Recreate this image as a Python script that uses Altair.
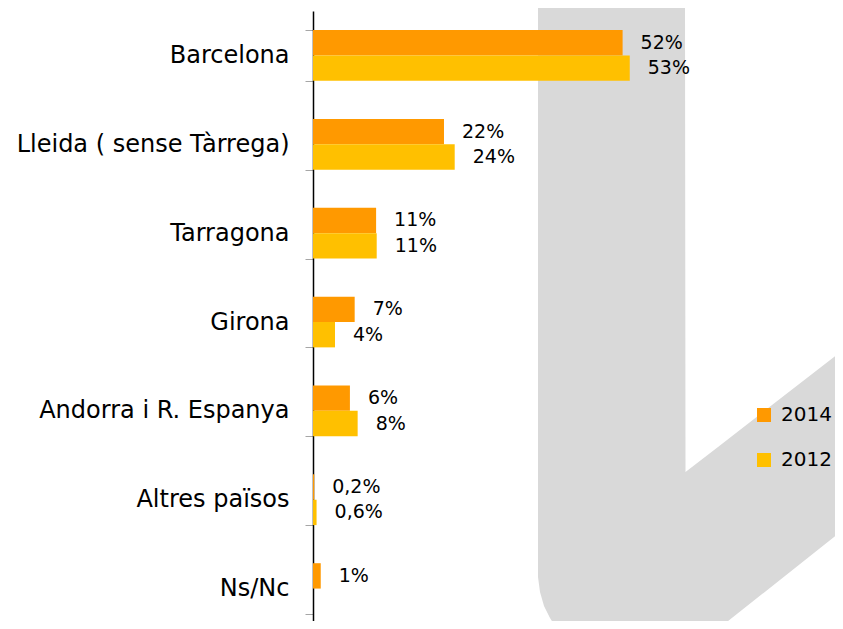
import altair as alt
import pandas as pd

# ---- chart data ----
categories = ["Barcelona", "Lleida ( sense Tàrrega)", "Tarragona", "Girona",
              "Andorra i R. Espanya", "Altres països", "Ns/Nc"]
years = ["2014", "2012"]
values_2014 = [52.0, 22.0, 10.6, 7.0, 6.2, 0.2, 1.3]
values_2012 = [53.2, 23.8, 10.7, 3.7, 7.5, 0.6, None]
labels_2014 = ["52%", "22%", "11%", "7%", "6%", "0,2%", "1%"]
labels_2012 = ["53%", "24%", "11%", "4%", "8%", "0,6%", None]
colors = ["#FF9900", "#FFC000"]

# ---- decorative background watermark (grey "L" shape), pixel outline ----
wm_x = [225, 227, 231, 237, 244, 249, 372, 372.5, 405, 530]
wm_top = [-11, -11, -11, -11, -11, -11, -11, 461, 436, 339]
wm_bot = [566, 581, 595, 607, 618, 629, 629, 629, 618, 519]

rows = []
for c, v, l in zip(categories, values_2014, labels_2014):
    if v is not None:
        rows.append({"cat": c, "year": "2014", "val": v, "lab": l})
for c, v, l in zip(categories, values_2012, labels_2012):
    if v is not None:
        rows.append({"cat": c, "year": "2012", "val": v, "lab": l})
df = pd.DataFrame(rows)
wm = pd.DataFrame({"wx": wm_x, "wy": wm_top, "wy2": wm_bot})

FONT = "DejaVu Sans"

watermark = alt.Chart(wm).mark_area(color="#D9D9D9", opacity=1).encode(
    x=alt.X("wx:Q", scale=None, axis=None),
    y=alt.Y("wy:Q", scale=None, axis=None),
    y2="wy2:Q",
)

yenc = alt.Y("cat:N", sort=categories, title=None,
             scale=alt.Scale(range=[0, 622], paddingInner=0.429, paddingOuter=0.2145),
             axis=alt.Axis(domainColor="black", domainWidth=1.5, tickColor="#A6A6A6",
                           tickSize=8, tickBand="extent", labelFont=FONT,
                           labelFontSize=24, labelColor="black", labelPadding=16,
                           labelLimit=400))
yoff = alt.YOffset("year:N", sort=years, scale=alt.Scale(paddingInner=0, paddingOuter=0))
xenc = alt.X("val:Q", scale=alt.Scale(domain=[0, 87], nice=False, zero=True), axis=None)

bars = alt.Chart(df).mark_bar().encode(
    x=xenc,
    y=yenc,
    yOffset=yoff,
    color=alt.Color("year:N", scale=alt.Scale(domain=years, range=colors),
                    legend=alt.Legend(orient="none", legendX=441, legendY=394, title=None,
                                      symbolType="square", symbolSize=196,
                                      symbolStrokeWidth=0, labelFont=FONT,
                                      labelFontSize=20, labelColor="black",
                                      rowPadding=25, labelOffset=7)),
)

text = alt.Chart(df).mark_text(align="left", baseline="middle", dx=18, font=FONT,
                               fontSize=19, color="black").encode(
    x=xenc,
    y=alt.Y("cat:N", sort=categories),
    yOffset=yoff,
    text="lab:N",
)

chart = alt.layer(watermark, bars + text).resolve_scale(
    x="independent", y="independent"
).properties(
    width=518, height=610,
    autosize=alt.AutoSizeParams(type="none"),
    padding={"left": 305, "top": 3, "right": 4, "bottom": 0},
).configure_view(stroke=None)

chart.save("out.html", embed_options={"renderer": "svg", "actions": False})
